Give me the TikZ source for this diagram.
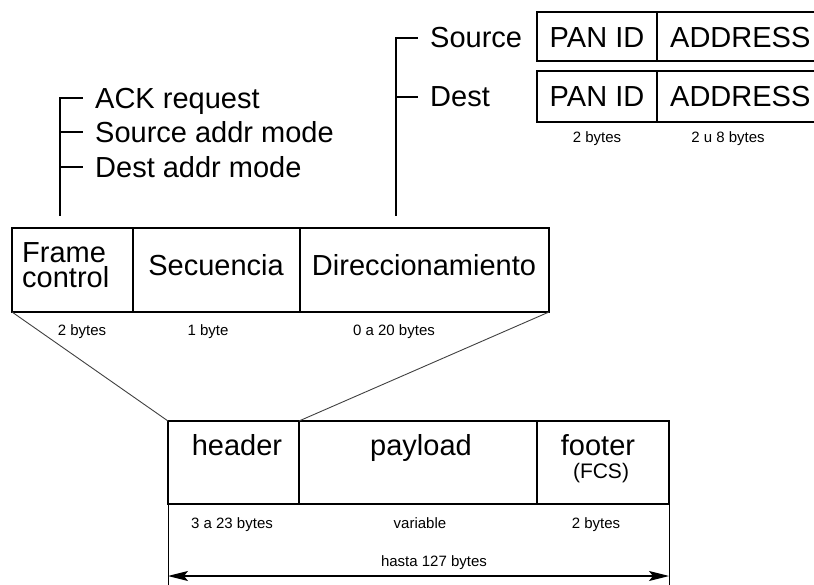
\documentclass[tikz,border=0pt]{standalone}
\usepackage{fontspec}
\setmainfont{Liberation Sans}
\usetikzlibrary{arrows.meta}
\begin{document}
\begin{tikzpicture}[x=1pt,y=-1pt,
  big/.style={font=\fontsize{29}{29}\selectfont, inner sep=0pt, anchor=base},
  bigw/.style={big, anchor=base west},
  small/.style={font=\fontsize{15}{15}\selectfont, inner sep=0pt, anchor=base},
  cell/.style={draw, line width=2.2pt, inner sep=0pt, outer sep=0pt},
  thinline/.style={line width=0.9pt, draw=black!75},
  brack/.style={line width=1.4pt},
  dim/.style={line width=1.2pt}]
\useasboundingbox (0,0) rectangle (814,585);

% top right address boxes
\node[cell, minimum width=120pt, minimum height=49pt] (pan1) at (597,36.5) {};
\node[cell, minimum width=166pt, minimum height=49pt] (adr1) at (740,36.5) {};
\node[cell, minimum width=120pt, minimum height=51pt] (pan2) at (597,96.5) {};
\node[cell, minimum width=166pt, minimum height=51pt] (adr2) at (740,96.5) {};
\node[big] (pan1t) at (597,48) {PAN ID};
\node[bigw] (adr1t) at (670,48) {ADDRESS};
\node[big] (pan2t) at (597,107) {PAN ID};
\node[bigw] (adr2t) at (670,107) {ADDRESS};
\node[small] (pb) at (597,143) {2 bytes};
\node[small] (ab) at (728,143) {2 u 8 bytes};

\node[bigw] (src) at (430,48) {Source};
\node[bigw] (dst) at (430,107) {Dest};

% left flags
\node[bigw] (ack) at (95,109) {ACK request};
\node[bigw] (sam) at (95,143) {Source addr mode};
\node[bigw] (dam) at (95,178) {Dest addr mode};

% header box
\node[cell, minimum width=121pt, minimum height=84pt] (fc) at (72.5,270) {};
\node[cell, minimum width=167pt, minimum height=84pt] (sec) at (216.5,270) {};
\node[cell, minimum width=249pt, minimum height=84pt] (dir) at (424.5,270) {};
\node[bigw] (fr1) at (22,263) {Frame};
\node[bigw] (fr2) at (22,288) {control};
\node[big] (sect) at (216,276) {Secuencia};
\node[big] (dirt) at (424,276) {Direccionamiento};
\node[small] (fcb) at (82,335) {2 bytes};
\node[small] (secb) at (208,335) {1 byte};
\node[small] (dirb) at (394,335) {0 a 20 bytes};

% frame box
\node[cell, minimum width=131pt, minimum height=83pt] (hdr) at (233.5,462.5) {};
\node[cell, minimum width=238pt, minimum height=83pt] (pay) at (418,462.5) {};
\node[cell, minimum width=132pt, minimum height=83pt] (ftr) at (603,462.5) {};
\node[big] (hdrt) at (237,455) {header};
\node[big] (payt) at (421,455) {payload};
\node[big] (ftrt) at (598,455) {footer};
\node[big, font=\fontsize{21}{21}\selectfont] (fcst) at (601,478) {(FCS)};
\node[small] (hdrb) at (232,528) {3 a 23 bytes};
\node[small] (payb) at (420,528) {variable};
\node[small] (ftrb) at (596,528) {2 bytes};
\node[small] (tot) at (434,566) {hasta 127 bytes};

% brackets
\coordinate (lbot) at (60,216);
\coordinate (ltop) at (60,98);
\coordinate (t1) at (83,98);
\coordinate (l2) at (60,132);
\coordinate (t2) at (83,132);
\coordinate (l3) at (60,167);
\coordinate (t3) at (83,167);
\draw[brack] (lbot) -- (ltop) -- (t1);
\draw[brack] (l2) -- (t2);
\draw[brack] (l3) -- (t3);

\coordinate (rbot) at (396,216);
\coordinate (rtop) at (396,38);
\coordinate (s1) at (418,38);
\coordinate (r2) at (396,97);
\coordinate (s2) at (418,97);
\draw[brack] (rbot) -- (rtop) -- (s1);
\draw[brack] (r2) -- (s2);

% zoom lines
\draw[thinline] (fc.south west) -- (hdr.north west);
\draw[thinline] (dir.south east) -- (hdr.north east);

% dimension
\coordinate (eL) at (168,585);
\coordinate (eR) at (669,585);
\coordinate (aL) at (168,576);
\coordinate (aR) at (669,576);
\draw[line width=0.9pt] (hdr.south west) -- (eL);
\draw[line width=0.9pt] (ftr.south east) -- (eR);
\draw[dim, {Stealth[length=20pt,width=10pt,inset=4pt]}-{Stealth[length=20pt,width=10pt,inset=4pt]}] (aL) -- (aR);
\end{tikzpicture}
\end{document}
